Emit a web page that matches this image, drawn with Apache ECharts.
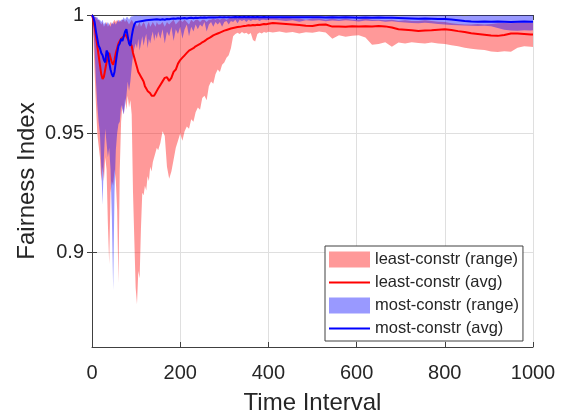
<!DOCTYPE html>
<html><head><meta charset="utf-8">
<script src="https://cdn.jsdelivr.net/npm/echarts@6/dist/echarts.min.js"></script>
<style>html,body{margin:0;padding:0;background:#fff}#c{width:566px;height:420px}</style>
</head><body><div id="c"></div>
<script>
// Time axis samples
const T = [
0,3,6,9,12,15,18,21,24,27,30,33,36,39,42,45,48,51,54,57,60,63,66,69,72,75,78,81,84,87,90,93,96,99,102,105,108,111,114,117,120,123,126,129,132,135,138,141,144,147,150,
155,160,165,170,175,180,185,190,195,200,205,210,215,220,225,230,235,240,245,250,255,260,265,270,275,280,285,290,295,300,305,310,315,320,325,330,335,340,345,350,355,360,365,370,375,380,385,390,395,400,
410,425,440,455,470,485,500,515,530,545,560,575,590,605,620,635,650,665,680,695,710,725,740,755,770,785,800,815,830,845,860,875,890,905,920,935,950,965,980,995,1000
];
// least-constr average
const leastAvg = [
1.000,0.998,0.995,0.991,0.987,0.983,0.979,0.975,0.973,0.974,
0.977,0.980,0.983,0.984,0.982,0.980,0.979,0.981,0.984,0.986,
0.988,0.989,0.990,0.990,0.991,0.992,0.991,0.990,0.989,0.988,
0.987,0.984,0.982,0.980,0.978,0.976,0.975,0.974,0.973,0.972,
0.970,0.969,0.968,0.9675,0.967,0.966,0.9658,0.966,0.967,0.968,
0.969,
0.9705,0.972,0.9735,0.9738,0.9722,0.9735,0.976,0.977,0.9795,0.981,
0.982,0.983,0.984,0.985,0.9855,0.986,0.9868,0.9873,0.9878,0.9885,
0.989,0.9897,0.9902,0.9908,0.9914,0.9918,0.9922,0.9926,0.993,0.9934,
0.9937,0.994,0.9943,0.9945,0.9947,0.9949,0.995,0.9952,0.9954,0.9955,
0.9957,0.9956,0.9958,0.9957,0.9959,0.9958,0.996,0.9962,0.9961,0.9963,
0.9966,0.9964,0.9962,0.996,0.9958,0.9955,0.9954,0.9959,0.996,0.9951,
0.9952,0.995,0.9953,0.9951,0.9953,0.9952,0.9954,0.9952,0.9947,0.994,
0.9938,0.9936,0.9933,0.9935,0.9936,0.9938,0.994,0.9937,0.9932,0.9928,
0.9923,0.992,0.9917,0.9914,0.9912,0.9916,0.9922,0.9922,0.992,0.9918,
0.9918
];
// least-constr range (low / high)
const leastLow = [
0.998,0.990,0.975,0.962,0.950,0.945,0.940,0.930,0.936,0.930,
0.940,0.935,0.912,0.895,0.925,0.930,0.928,0.935,0.930,0.918,
0.887,0.935,0.955,0.962,0.958,0.965,0.960,0.966,0.961,0.964,
0.958,0.925,0.905,0.885,0.878,0.892,0.889,0.910,0.925,0.924,
0.928,0.926,0.932,0.930,0.936,0.934,0.938,0.940,0.942,0.944,
0.943,
0.946,0.951,0.949,0.936,0.931,0.934,0.939,0.944,0.947,0.950,
0.947,0.951,0.953,0.952,0.956,0.955,0.959,0.961,0.960,0.965,
0.966,0.964,0.970,0.972,0.971,0.975,0.977,0.976,0.979,0.980,
0.982,0.983,0.986,0.991,0.992,0.9925,0.992,0.9928,0.9922,0.9925,
0.9918,0.9924,0.9895,0.9888,0.992,0.9926,0.9922,0.9928,0.9925,0.9929,
0.9926,0.993,0.9925,0.9928,0.9922,0.9927,0.9925,0.993,0.9926,0.990,
0.9915,0.9908,0.9912,0.9915,0.9905,0.9875,0.9878,0.9885,0.9866,0.9884,
0.988,0.9885,0.9882,0.988,0.9884,0.988,0.9878,0.9872,0.9868,0.9862,
0.9858,0.9855,0.9852,0.9846,0.9844,0.9847,0.9845,0.9862,0.9868,0.9866,
0.9865
];
const leastHigh = [
1.000,0.9995,0.999,0.999,0.998,0.998,0.997,0.996,0.997,0.995,
0.996,0.997,0.995,0.996,0.997,0.996,0.997,0.998,0.997,0.998,
0.997,0.998,0.997,0.998,0.998,0.997,0.998,0.997,0.996,0.997,
0.998,0.997,0.996,0.997,0.995,0.996,0.997,0.995,0.996,0.997,
0.996,0.994,0.996,0.997,0.995,0.996,0.997,0.996,0.995,0.997,
0.996,
0.996,0.997,0.995,0.997,0.996,0.997,0.998,0.996,0.997,0.998,
0.997,0.998,0.997,0.996,0.998,0.997,0.998,0.998,0.997,0.998,
0.998,0.997,0.998,0.998,0.9985,0.998,0.9985,0.998,0.9985,0.9985,
0.998,0.9985,0.999,0.9985,0.999,0.9985,0.999,0.999,0.9985,0.999,
0.999,0.9985,0.999,0.999,0.9985,0.999,0.999,0.999,0.9985,0.999,
0.999,0.9985,0.999,0.9985,0.9985,0.998,0.9985,0.9985,0.998,0.9985,
0.998,0.9985,0.998,0.998,0.9985,0.998,0.998,0.9978,0.998,0.9975,
0.9978,0.9975,0.9975,0.9978,0.9975,0.9972,0.997,0.9965,0.9962,0.996,
0.996,0.9962,0.996,0.9962,0.9965,0.9966,0.9965,0.9968,0.9966,0.9967,
0.9966
];
// most-constr average
const mostAvg = [
1.000,0.999,0.997,0.993,0.990,0.987,0.986,0.984,0.983,0.981,
0.980,0.985,0.984,0.980,0.977,0.975,0.974,0.976,0.980,0.984,
0.987,0.988,0.990,0.989,0.991,0.993,0.994,0.991,0.988,0.987,
0.991,0.994,0.996,0.997,0.9968,0.9972,0.997,0.9974,0.9972,0.9976,
0.9975,0.9978,0.9976,0.9979,0.9977,0.998,0.9978,0.9981,0.998,0.9982,
0.998,
0.998,0.9982,0.998,0.9983,0.9982,0.9984,0.9985,0.9984,0.9986,0.9985,
0.9986,0.9987,0.9985,0.9987,0.9988,0.9986,0.9988,0.9987,0.9989,0.9988,
0.9989,0.9988,0.999,0.9989,0.999,0.9989,0.999,0.9991,0.999,0.9991,
0.999,0.9991,0.999,0.9991,0.9992,0.9991,0.9992,0.9991,0.9992,0.9991,
0.9992,0.9991,0.9992,0.9991,0.9992,0.9991,0.9991,0.9992,0.9991,0.9991,
0.999,0.9991,0.999,0.9991,0.999,0.9991,0.999,0.999,0.9989,0.999,
0.9989,0.999,0.9989,0.9988,0.9989,0.9988,0.9989,0.9988,0.9988,0.9987,
0.9986,0.9985,0.9984,0.9985,0.9984,0.9983,0.9983,0.9981,0.9978,0.9975,
0.9973,0.9972,0.9973,0.9972,0.9973,0.9972,0.9971,0.9972,0.9973,0.9972,
0.9972
];
// most-constr range (low / high)
const mostLow = [
0.999,0.995,0.985,0.972,0.962,0.955,0.950,0.936,0.920,0.940,
0.952,0.946,0.940,0.944,0.935,0.915,0.884,0.925,0.943,0.950,
0.954,0.955,0.962,0.960,0.958,0.962,0.966,0.972,0.968,0.972,
0.978,0.983,0.986,0.988,0.986,0.990,0.985,0.988,0.991,0.987,
0.990,0.992,0.986,0.990,0.988,0.991,0.993,0.989,0.992,0.990,
0.993,
0.990,0.994,0.988,0.993,0.991,0.995,0.989,0.994,0.992,0.995,
0.990,0.994,0.996,0.991,0.995,0.993,0.996,0.994,0.996,0.995,
0.997,0.993,0.996,0.997,0.995,0.997,0.996,0.997,0.995,0.997,
0.9975,0.996,0.9975,0.997,0.998,0.9965,0.998,0.9975,0.998,0.997,
0.998,0.9975,0.998,0.9978,0.998,0.9975,0.998,0.998,0.9978,0.998,
0.998,0.9978,0.9975,0.9978,0.9972,0.9978,0.9976,0.9978,0.9974,0.9977,
0.9975,0.9978,0.9976,0.9973,0.9977,0.9975,0.9976,0.9972,0.9974,0.997,
0.9968,0.9966,0.9965,0.9967,0.9965,0.9962,0.996,0.9958,0.9957,0.9956,
0.9955,0.9954,0.9955,0.9953,0.9945,0.9938,0.9935,0.9934,0.9936,0.9935,
0.9936
];
const mostHigh = [
1.000,1.000,0.9995,0.999,0.999,0.998,0.998,0.997,0.998,0.996,
0.997,0.996,0.997,0.996,0.995,0.997,0.996,0.997,0.996,0.997,
0.998,0.997,0.998,0.998,0.999,0.998,0.999,0.999,0.998,0.999,
0.9995,0.9995,0.9998,0.9998,0.9998,0.9996,0.9998,0.9998,0.9996,0.9998,
0.9998,0.9996,0.9998,0.9998,0.9997,0.9998,0.9998,0.9996,0.9998,0.9998,
0.9998,
0.9998,0.9997,0.9998,0.9998,0.9996,0.9998,0.9998,0.9997,0.9998,0.9998,
0.9998,0.9996,0.9998,0.9998,0.9997,0.9998,0.9998,0.9998,0.9996,0.9998,
0.9998,0.9998,0.9997,0.9998,0.9998,0.9998,0.9996,0.9998,0.9998,0.9998,
0.9998,0.9997,0.9998,0.9998,0.9998,0.9998,0.9996,0.9998,0.9998,0.9998,
0.9998,0.9998,0.9997,0.9998,0.9998,0.9998,0.9998,0.9996,0.9998,0.9998,
0.9998,0.9998,0.9998,0.9997,0.9998,0.9998,0.9998,0.9998,0.9996,0.9998,
0.9998,0.9998,0.9998,0.9997,0.9998,0.9998,0.9998,0.9998,0.9998,0.9996,
0.9998,0.9998,0.9998,0.9998,0.9997,0.9998,0.9998,0.9998,0.9998,0.9996,
0.9998,0.9998,0.9998,0.9998,0.9997,0.9998,0.9998,0.9998,0.9998,0.9998,
0.9998
];
const xTicks = [0, 200, 400, 600, 800, 1000];
const yTicks = [0.9, 0.95, 1];
const names = ['least-constr (range)', 'least-constr (avg)', 'most-constr (range)', 'most-constr (avg)'];

const FONT = 'Liberation Sans, Arial, sans-serif';
const AX = '#404040';
const TXT = '#262626';
const GRIDC = '#dfdfdf';
const LINE_ICON = 'path://M0,0 H41 V2 H0 Z';

function bandRenderer(low, high) {
  return function (params, api) {
    if (params.dataIndex !== 0) return null;
    const p = [];
    for (let i = 0; i < T.length; i++) p.push(api.coord([T[i], high[i]]));
    for (let i = T.length - 1; i >= 0; i--) p.push(api.coord([T[i], low[i]]));
    return { type: 'polygon', shape: { points: p }, style: { fill: api.visual('color') } };
  };
}
const rows = (a, b) => T.map((t, i) => [t, a[i], b[i]]);
const pts = (a) => T.map((t, i) => [t, a[i]]);

const chart = echarts.init(document.getElementById('c'), null, { renderer: 'canvas' });
chart.setOption({
  animation: false,
  backgroundColor: '#fff',
  grid: { left: 92, right: 33, top: 15, bottom: 71, containLabel: false },
  xAxis: [{
    type: 'value', min: 0, max: 1000, position: 'bottom',
    axisLine: { show: true, lineStyle: { color: AX } },
    axisTick: { inside: true, length: 5, customValues: xTicks, lineStyle: { color: AX } },
    axisLabel: { customValues: xTicks, color: TXT, fontSize: 20, fontFamily: FONT, margin: 16,
      formatter: v => String(Math.round(v)) },
    splitLine: { show: true, lineStyle: { color: GRIDC } },
    name: 'Time Interval', nameLocation: 'middle', nameGap: 44,
    nameTextStyle: { fontSize: 24, color: TXT, fontFamily: FONT }
  }, {
    type: 'value', min: 0, max: 1000, position: 'top',
    axisLine: { show: true, lineStyle: { color: AX } },
    axisTick: { inside: true, length: 5, customValues: xTicks, lineStyle: { color: AX } },
    axisLabel: { show: false }, splitLine: { show: false }
  }],
  yAxis: [{
    type: 'value', min: 0.86, max: 1, position: 'left',
    axisLine: { show: true, lineStyle: { color: AX } },
    axisTick: { inside: true, length: 5, customValues: yTicks, lineStyle: { color: AX } },
    axisLabel: { customValues: yTicks, color: TXT, fontSize: 20, fontFamily: FONT, margin: 8,
      formatter: v => String(+(+v).toFixed(2)) },
    splitLine: { show: true, lineStyle: { color: GRIDC } },
    name: 'Fairness Index', nameLocation: 'middle', nameGap: 53, nameMoveOverlap: false,
    nameTextStyle: { fontSize: 24, color: TXT, fontFamily: FONT }
  }, {
    type: 'value', min: 0.86, max: 1, position: 'right',
    axisLine: { show: true, lineStyle: { color: AX } },
    axisTick: { inside: true, length: 5, customValues: yTicks, lineStyle: { color: AX } },
    axisLabel: { show: false }, splitLine: { show: false }
  }],
  legend: {
    orient: 'vertical', left: 325, top: 246,
    padding: [5, 4, 4, 4], itemGap: 6, itemWidth: 41, itemHeight: 16,
    borderColor: '#404040', borderWidth: 1, backgroundColor: '#fff',
    textStyle: { fontSize: 16.5, color: TXT, fontFamily: FONT },
    data: [
      { name: names[0], icon: 'rect' },
      { name: names[1], icon: LINE_ICON },
      { name: names[2], icon: 'rect' },
      { name: names[3], icon: LINE_ICON }
    ]
  },
  series: [
    { type: 'custom', name: names[0], silent: true, renderItem: bandRenderer(leastLow, leastHigh),
      data: rows(leastLow, leastHigh), encode: { x: 0, y: [1, 2] },
      itemStyle: { color: 'rgba(255,0,0,0.4)' } },
    { type: 'line', name: names[1], data: pts(leastAvg), symbol: 'none', silent: true,
      color: '#ff0000', lineStyle: { color: '#ff0000', width: 2 } },
    { type: 'custom', name: names[2], silent: true, renderItem: bandRenderer(mostLow, mostHigh),
      data: rows(mostLow, mostHigh), encode: { x: 0, y: [1, 2] },
      itemStyle: { color: 'rgba(0,0,255,0.4)' } },
    { type: 'line', name: names[3], data: pts(mostAvg), symbol: 'none', silent: true,
      color: '#0000ff', lineStyle: { color: '#0000ff', width: 2 } }
  ]
});
</script></body></html>
